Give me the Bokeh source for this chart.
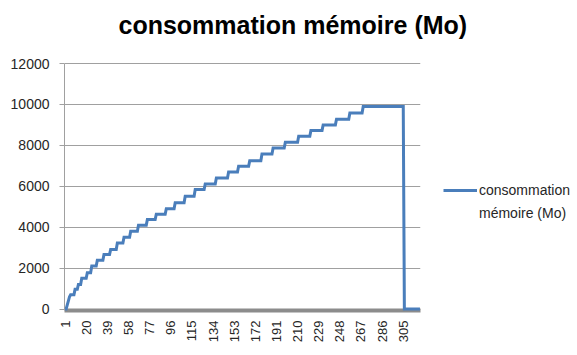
import math
import numpy as np
from bokeh.plotting import figure
from bokeh.models import Range1d, FixedTicker, Legend, LegendItem
from bokeh.embed import file_html
from bokeh.resources import INLINE

# ---- data ----
title_text = "consommation mémoire (Mo)"
legend_lines = ["consommation", "mémoire (Mo)"]

# memory levels (Mo) of each plateau and how many samples each plateau lasts
step_levels = [0, 200, 400, 600, 700, 960, 1200, 1500, 1770, 2100, 2380, 2670,
               2910, 3230, 3510, 3800, 4100, 4375, 4630, 4900, 5190, 5510, 5840,
               6110, 6400, 6700, 6980, 7250, 7580, 7870, 8150, 8440, 8730, 9000,
               9280, 9580, 9900, 0]
step_lengths = [2, 1, 1, 1, 4, 3, 3, 5, 4, 5, 6, 6,
                6, 6, 6, 7, 8, 8, 9, 8, 9, 9, 9,
                10, 11, 9, 10, 11, 10, 11, 12, 11, 11, 12,
                12, 12, 37, 15]

x_tick_labels = [1, 20, 39, 58, 77, 96, 115, 134, 153, 172, 191, 210, 229,
                 248, 267, 286, 305]
y_tick_values = [0, 2000, 4000, 6000, 8000, 10000, 12000]

memory = np.repeat(step_levels, step_lengths)
categories = np.arange(1, len(memory) + 1)

# ---- figure ----
# the frame reaches a little above the 12000 line so that the title can sit higher
p = figure(width=577, height=355,
           frame_width=356, frame_height=264,
           min_border_left=64, min_border_right=157,
           min_border_top=46, min_border_bottom=45,
           x_range=Range1d(0.5, len(memory) + 0.5),
           y_range=Range1d(-73, 12831),
           output_backend="svg", toolbar_location=None)

p.background_fill_color = "white"
p.border_fill_color = "white"
p.outline_line_color = None

p.title.text = title_text
p.title.align = "left"
p.title.offset = 54
p.title.text_font = "Liberation Sans"
p.title.text_font_style = "bold"
p.title.text_font_size = "25px"
p.title.text_color = "#000000"
p.title.standoff = 16

grid_gray = "#a0a0a0"

# x axis
p.xaxis.ticker = FixedTicker(ticks=x_tick_labels)
p.xaxis.major_label_orientation = math.pi / 2
p.xaxis.axis_line_width = 4
p.xaxis.axis_line_color = "#8c8c8c"
p.xaxis.major_tick_out = 0
p.xaxis.major_tick_in = 0
p.xaxis.minor_tick_out = 0
p.xaxis.minor_tick_in = 0
p.xaxis.major_label_standoff = 10
p.xaxis.major_label_text_font = "Liberation Sans"
p.xaxis.major_label_text_font_size = "13px"
p.xaxis.major_label_text_color = "#262626"
p.xgrid.visible = False

# y axis
p.yaxis.ticker = FixedTicker(ticks=y_tick_values)
p.yaxis.bounds = (-73, max(y_tick_values))
p.yaxis.axis_line_color = grid_gray
p.yaxis.major_tick_line_color = grid_gray
p.yaxis.major_tick_out = 5
p.yaxis.major_tick_in = 0
p.yaxis.minor_tick_out = 0
p.yaxis.minor_tick_in = 0
p.yaxis.major_label_standoff = 10
p.yaxis.major_label_text_font = "Liberation Sans"
p.yaxis.major_label_text_font_size = "14px"
p.yaxis.major_label_text_color = "#262626"
p.ygrid.grid_line_color = grid_gray
p.ygrid.grid_line_width = 1

# series
r = p.line(categories, memory, line_color="#4A7EBB", line_width=3,
           line_join="miter", level="overlay")
r2 = p.line(categories, memory, line_alpha=0)

legend = Legend(items=[LegendItem(label=legend_lines[0], renderers=[r]),
                       LegendItem(label=legend_lines[1], renderers=[r2])],
                location=(23, 87), padding=0, margin=0,
                border_line_color=None, background_fill_alpha=0,
                glyph_width=34, glyph_height=20, label_height=20,
                label_standoff=2, spacing=3,
                label_text_font="Liberation Sans",
                label_text_font_size="14px",
                label_text_color="#262626")
p.add_layout(legend, "right")

open("out.html", "w").write(file_html(p, INLINE))
